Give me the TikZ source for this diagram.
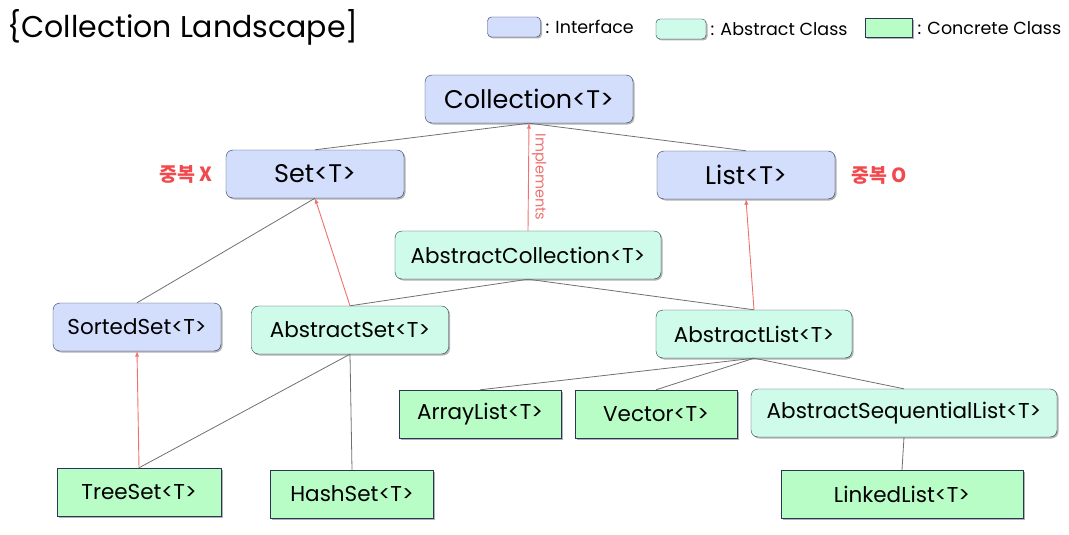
\documentclass[tikz,border=0pt]{standalone}
\usepackage{fontspec}
\setmainfont{Poppins}
\newfontfamily\korean{Noto Sans CJK KR}
\usetikzlibrary{shadows}

\definecolor{ifacefill}{HTML}{D3DEFC}
\definecolor{absfill}{HTML}{CFFBEA}
\definecolor{concfill}{HTML}{B8FCC6}
\definecolor{boxline}{HTML}{2B3656}
\definecolor{linkgray}{HTML}{707070}
\definecolor{implred}{HTML}{F07070}
\definecolor{notered}{HTML}{F04A4E}

\tikzset{
  boxshadow/.style={drop shadow={shadow xshift=1.5pt, shadow yshift=-1.5pt, opacity=0.3, fill=black}},
  iface/.style={draw=boxline, fill=ifacefill, rounded corners=7pt, minimum height=48pt, inner sep=2pt, boxshadow},
  absclass/.style={draw=boxline, fill=absfill, rounded corners=7pt, minimum height=48pt, inner sep=2pt, boxshadow},
  concclass/.style={draw=boxline, fill=concfill, minimum height=48pt, inner sep=2pt, boxshadow},
  link/.style={draw=linkgray, line width=0.8pt},
  impl/.style={draw=implred, line width=0.9pt, ->, >=latex},
  bigtxt/.style={font=\fontsize{25.5}{28}\selectfont},
  boxtxt/.style={font=\fontsize{21.5}{24}\selectfont},
  lgtxt/.style={anchor=west, font=\fontsize{17.5}{20}\selectfont},
  notetxt/.style={text=notered, font=\korean\bfseries\fontsize{19.5}{22}\selectfont},
}

\begin{document}
\begin{tikzpicture}[x=1pt, y=-1pt]
    \useasboundingbox (0, 0) rectangle (1069, 535);

    % title and legend
    \node[anchor=west, font=\fontsize{30}{32}\selectfont] (title) at (4, 27) {\{Collection Landscape]};
    \node[iface, rounded corners=4pt, minimum width=53pt, minimum height=20pt] (lgiface) at (514, 27) {};
    \node[lgtxt] (lgifacetxt) at (542, 27) {: Interface};
    \node[absclass, rounded corners=4pt, minimum width=50pt, minimum height=20pt] (lgabs) at (681, 29) {};
    \node[lgtxt] (lgabstxt) at (707, 29) {: Abstract Class};
    \node[concclass, minimum width=47pt, minimum height=19pt] (lgconc) at (889, 28) {};
    \node[lgtxt] (lgconctxt) at (914, 28) {: Concrete Class};

    % interfaces
    \node[iface, minimum width=208pt, bigtxt] (coll) at (529, 99) {Collection<T>};
    \node[iface, minimum width=178pt, bigtxt] (set) at (315, 174) {Set<T>};
    \node[iface, minimum width=178pt, bigtxt] (list) at (746, 175) {List<T>};
    \node[iface, minimum width=168pt, boxtxt] (sorted) at (137, 327) {SortedSet<T>};

    % abstract classes
    \node[absclass, minimum width=266pt, boxtxt] (abscoll) at (528, 255) {AbstractCollection<T>};
    \node[absclass, minimum width=197pt, boxtxt] (absset) at (350, 330) {AbstractSet<T>};
    \node[absclass, minimum width=196pt, boxtxt] (abslist) at (754, 334) {AbstractList<T>};
    \node[absclass, minimum width=306pt, boxtxt] (absseq) at (904, 413) {AbstractSequentialList<T>};

    % concrete classes
    \node[concclass, minimum width=162pt, boxtxt] (arrlist) at (480, 414) {ArrayList<T>};
    \node[concclass, minimum width=162pt, boxtxt] (vector) at (656, 414) {Vector<T>};
    \node[concclass, minimum width=164pt, boxtxt] (treeset) at (139, 492) {TreeSet<T>};
    \node[concclass, minimum width=163pt, boxtxt] (hashset) at (352, 494) {HashSet<T>};
    \node[concclass, minimum width=242pt, boxtxt] (linked) at (902, 494) {LinkedList<T>};

    % duplicate notes
    \node[notetxt] (nodup) at (186, 174) {중복 X};
    \node[notetxt] (dup) at (879, 175) {중복 O};

    % plain links
    \draw[link] (coll.south) -- (set.north);
    \draw[link] (coll.south) -- (list.north);
    \draw[link] (set.south) -- (sorted.north);
    \draw[link] (abscoll.south) -- (absset.north);
    \draw[link] (abscoll.south) -- (abslist.north);
    \draw[link] (absset.south) -- (treeset.north);
    \draw[link] (absset.south) -- (hashset.north);
    \draw[link] (abslist.south) -- (arrlist.north);
    \draw[link] (abslist.south) -- (vector.north);
    \draw[link] (abslist.south) -- (absseq.north);
    \draw[link] (absseq.south) -- (linked.north);

    % implements arrows
    \draw[impl] (abscoll.north) to node[rotate=-90, anchor=south, text=implred, font=\fontsize{14.5}{16}\selectfont, inner sep=3pt] (impltxt) {Implements} (coll.south);
    \draw[impl] (absset.north) to (set.south);
    \draw[impl] (abslist.north) to (list.south);
    \draw[impl] (treeset.north) to (sorted.south);
  \end{tikzpicture}
\end{document}
